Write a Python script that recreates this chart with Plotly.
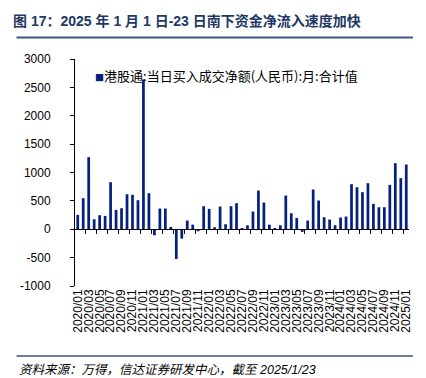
import plotly.graph_objects as go

# ---- data ----
months = [f"{y}/{m:02d}" for y in range(2020, 2026) for m in range(1, 13)][:61]
net_inflow = [
    253, 547, 1270, 176, 247, 235, 829, 341, 370, 617, 606, 512,      # 2020
    2640, 635, -106, 365, 365, 41, -524, -165, 153, 82, -35, 406,     # 2021
    359, 35, 400, 88, 406, 459, 18, 70, 312, 682, 471, 80,            # 2022
    5, 70, 594, 282, 200, -47, 153, 700, 506, 212, 171, 70,           # 2023
    206, 224, 794, 741, 653, 812, 447, 388, 388, 782, 1165, 900,      # 2024
    1141,                                                             # 2025
]
y_ticks = [-1000, -500, 0, 500, 1000, 1500, 2000, 2500, 3000]
y_tick_labels = ["-1000", "-500", "0", "500", "1000", "1500", "2000", "2500", "3000"]
series_name = "港股通:当日买入成交净额(人民币):月:合计值"
title_text = "图 17：2025 年 1 月 1 日-23 日南下资金净流入速度加快"
source_text = "资料来源：万得，信达证券研发中心，截至 2025/1/23"

NAVY = "#062080"
TITLE_C = "#1f3864"
LINE_C = "#3b5585"
FONT = "Liberation Sans, Arial, Noto Sans CJK SC"
CJK = "Noto Sans CJK SC"

x_idx = list(range(len(months)))
y_min, y_max = -1000, 3000
x_range = [-0.5, len(months) - 0.5]

fig = go.Figure()
fig.add_trace(go.Bar(
    x=x_idx, y=net_inflow, width=0.5, name=series_name,
    marker=dict(color=NAVY, line=dict(width=0)),
    xaxis="x", yaxis="y", showlegend=False,
))
# helper trace so the label axis is drawn
fig.add_trace(go.Scatter(x=[None], y=[None], xaxis="x2", yaxis="y",
                         showlegend=False, hoverinfo="skip"))

zero_pos = (0 - y_min) / (y_max - y_min)
tick_marks = [i + 1.5 for i in range(0, len(months) - 1, 2)]

fig.update_layout(
    width=426, height=378,
    margin=dict(l=64, r=25, t=51, b=100),
    paper_bgcolor="white", plot_bgcolor="white",
    font=dict(family=FONT, size=12, color="black"),
    bargap=0.5,
    xaxis=dict(
        range=x_range, anchor="free", position=zero_pos,
        showline=True, linecolor="black", linewidth=1,
        tickmode="array", tickvals=tick_marks, showticklabels=False,
        ticks="outside", ticklen=4, tickcolor="black",
        showgrid=False, zeroline=False,
    ),
    xaxis2=dict(
        range=x_range, overlaying="x", anchor="y", side="bottom",
        showline=False, ticks="", showgrid=False, zeroline=False,
        tickmode="array", tickvals=x_idx[::2], ticktext=months[::2],
        tickangle=-90, tickfont=dict(family=FONT, size=12, color="black"),
    ),
    yaxis=dict(
        range=[y_min, y_max], showline=True, linecolor="black", linewidth=1,
        tickmode="array", tickvals=y_ticks, ticktext=y_tick_labels,
        ticks="outside", ticklen=4, tickcolor="black",
        ticklabelstandoff=17,
        tickfont=dict(family=FONT, size=12, color="black"),
        showgrid=False, zeroline=False,
    ),
    title=dict(
        text="<b>" + title_text + "</b>",
        x=5 / 426, xref="container", xanchor="left",
        y=1 - 13 / 378, yref="container", yanchor="middle",
        font=dict(family=FONT, size=14, color=TITLE_C),
    ),
    showlegend=False,
)

plot_h = 378 - 51 - 100
plot_w = 426 - 64 - 25
def py(px):  # pixel y -> paper y
    return (378 - 100 - px) / plot_h
def pxx(px):  # pixel x -> paper x
    return (px - 64) / plot_w

fig.add_shape(type="line", xref="paper", yref="paper",
              x0=pxx(5), x1=pxx(405), y0=py(29.5), y1=py(29.5),
              line=dict(color=LINE_C, width=2))
fig.add_shape(type="line", xref="paper", yref="paper",
              x0=pxx(5), x1=pxx(405), y0=py(348), y1=py(348),
              line=dict(color=LINE_C, width=1.5))

fig.add_annotation(
    xref="paper", yref="paper", x=pxx(82), y=py(67),
    xanchor="left", yanchor="middle", showarrow=False,
    text=f'<span style="color:{NAVY};font-size:9px">■</span>' + series_name,
    font=dict(family=CJK, size=13, color="black"),
)
fig.add_annotation(
    xref="paper", yref="paper", x=pxx(5), y=py(362),
    xanchor="left", yanchor="middle", showarrow=False,
    text="<i>" + source_text + "</i>",
    font=dict(family=FONT, size=12.5, color="black"),
)

fig.write_html("out.html")
